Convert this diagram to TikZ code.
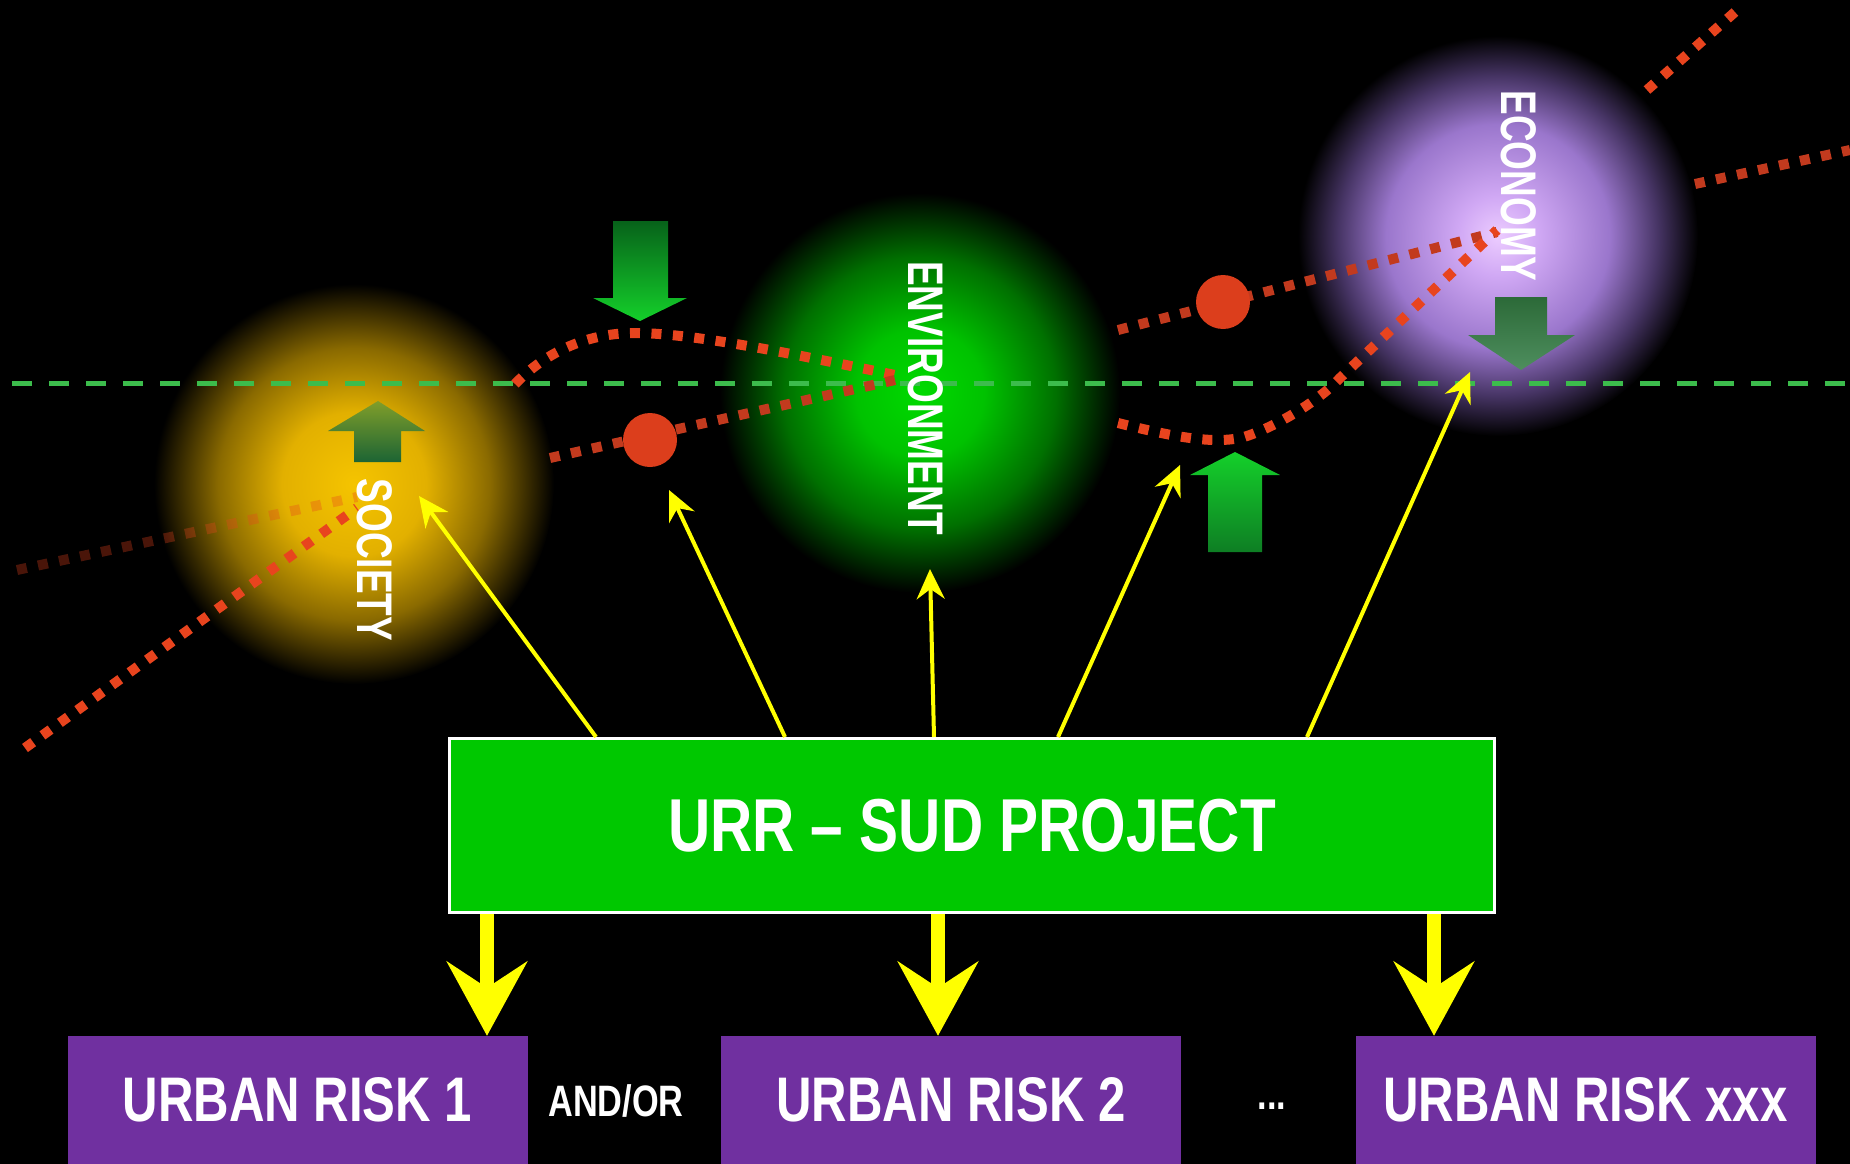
\documentclass[tikz,border=0pt]{standalone}
\usepackage{fontspec}
\usetikzlibrary{arrows.meta}
\newfontfamily\condA{Liberation Sans}[FakeStretch=0.78]
\newfontfamily\condB{Liberation Sans}[FakeStretch=0.74]
\definecolor{socA}{HTML}{F5C400}
\definecolor{socB}{HTML}{E2B000}
\definecolor{socC}{HTML}{8A6A00}
\definecolor{envA}{HTML}{00DA00}
\definecolor{envB}{HTML}{00C200}
\definecolor{envC}{HTML}{007000}
\definecolor{ecoA}{HTML}{ECCCFF}
\definecolor{ecoB}{HTML}{D0A8F4}
\definecolor{ecoC}{HTML}{9A76CC}
\definecolor{ecoD}{HTML}{463464}
\definecolor{urrgreen}{HTML}{00C800}
\definecolor{riskpurple}{HTML}{7030A0}
\definecolor{ylw}{HTML}{FFFF00}
\definecolor{redA}{HTML}{E8441E}
\definecolor{redB}{HTML}{C23A1E}
\definecolor{dashgreen}{HTML}{3CBC4C}
\definecolor{gDarkTop}{HTML}{07621A}
\definecolor{gBright}{HTML}{14D02A}
\definecolor{gMid}{HTML}{0E7E24}
\definecolor{oliveTop}{HTML}{809E2A}
\definecolor{tealBot}{HTML}{1C6434}
\definecolor{ecoArrTop}{HTML}{2C6A38}
\definecolor{ecoArrBot}{HTML}{4E8E5E}
\definecolor{dotred}{HTML}{DC3E1C}
\pgfdeclareradialshading{socglow}{\pgfpoint{0bp}{0bp}}{color(0bp)=(socA); color(9bp)=(socB); color(17bp)=(socC); color(25bp)=(black); color(50bp)=(black)}
\pgfdeclareradialshading{envglow}{\pgfpoint{0bp}{0bp}}{color(0bp)=(envA); color(8bp)=(envB); color(17bp)=(envC); color(25bp)=(black); color(50bp)=(black)}
\pgfdeclareradialshading{ecoglow}{\pgfpoint{0bp}{0bp}}{color(0bp)=(ecoA); color(5bp)=(ecoB); color(14bp)=(ecoC); color(20bp)=(ecoD); color(25bp)=(black); color(50bp)=(black)}
\tikzset{
  reddots/.style={line width=10pt, dash pattern=on 10pt off 11.5pt, draw=redA},
  reddim/.style={reddots, draw=redB},
  redfaint/.style={reddots, draw=redA, draw opacity=0.32},
  greendash/.style={line width=5pt, dash pattern=on 20pt off 17pt, draw=dashgreen},
  sphere/.style={white, font=\condB\bfseries\fontsize{50}{52}\selectfont, rotate=-90, inner sep=0pt},
  yarrow/.style={draw=ylw, line width=4pt, -{Stealth[length=30pt, width=28pt, inset=10pt]}},
  bigarrow/.style={draw=ylw, line width=14pt, -{Stealth[length=74pt, width=80pt, inset=26pt]}},
  riskbox/.style={fill=riskpurple, minimum width=460pt, minimum height=128pt, inner sep=0pt, text=white, font=\condA\bfseries\fontsize{63}{65}\selectfont},
  smalltext/.style={text=white, font=\condA\bfseries\fontsize{44}{46}\selectfont, inner sep=0pt}
}
\begin{document}
\begin{tikzpicture}[x=1pt,y=-1pt]
\useasboundingbox (0,0) rectangle (1850,1164);
\fill[black] (0,0) rectangle (1850,1164);
% glows
\shade[shading=socglow] (354,484) circle [radius=200];
\shade[shading=envglow] (920,393) circle [radius=200];
\shade[shading=ecoglow] (1498,236) circle [radius=200];
% dashed green line
\draw[greendash] (12,383) -- (1850,383);
% red dotted trend lines
\draw[redfaint] (17,570) -- (357,497);
\draw[reddots] (25,748) -- (357,508);
\draw[reddots] (515,384) .. controls (548,350) and (590,333) .. (635,333) .. controls (700,333) and (820,360) .. (900,376);
\draw[reddim] (550,458) -- (895,380);
\draw[reddim] (1118,330) -- (1497,232);
\draw[reddots] (1118,423) .. controls (1170,436) and (1210,444) .. (1240,438) .. controls (1265,432) and (1315,405) .. (1340,378) -- (1497,230);
\draw[reddots] (1647,90) -- (1735,12);
\draw[reddim] (1695,184) -- (1850,150);
% red dots
\fill[dotred] (650,440) circle [radius=27];
\fill[dotred] (1223,302) circle [radius=27];
% green block arrows
\shade[top color=gDarkTop, bottom color=gBright] (613,221) -- (668,221) -- (668,298) -- (687,298) -- (640,321) -- (593,298) -- (613,298) -- cycle;
\shade[top color=oliveTop, bottom color=tealBot] (378,401) -- (425,431) -- (401,431) -- (401,462) -- (354,462) -- (354,431) -- (328,431) -- cycle;
\shade[top color=gBright, bottom color=gMid] (1235,452) -- (1280,475) -- (1262,475) -- (1262,552) -- (1208,552) -- (1208,475) -- (1190,475) -- cycle;
\shade[top color=ecoArrTop, bottom color=ecoArrBot] (1495,297) -- (1547,297) -- (1547,335) -- (1575,335) -- (1521,370) -- (1468,335) -- (1495,335) -- cycle;
% sphere labels
\node[sphere] (society) at (375,560) {SOCIETY};
\node[sphere] (environment) at (926,398) {ENVIRONMENT};
\node[sphere] (economy) at (1519,186) {ECONOMY};
% boxes
\node[draw=white, line width=3pt, fill=urrgreen, minimum width=1045pt, minimum height=174pt, inner sep=0pt, text=white, font=\condA\bfseries\fontsize{75}{77}\selectfont] (urr) at (972,825.5) {URR – SUD PROJECT};
\node[riskbox] (risk1) at (297.5,1100) {URBAN RISK 1};
\node[riskbox] (risk2) at (951,1100) {URBAN RISK 2};
\node[riskbox] (risk3) at (1585.5,1100) {URBAN RISK xxx};
\node[smalltext] (andor) at (616,1101) {AND/OR};
\node[smalltext] (dots) at (1272,1106) {...};
% targets of yellow arrows
\coordinate (t1) at (419,496);
\coordinate (t2) at (669,490);
\coordinate (t3) at (930,569);
\coordinate (t4) at (1180,465);
\coordinate (t5) at (1470,372);
\coordinate (s1) at (596,0);
\coordinate (s2) at (785,0);
\coordinate (s3) at (934,0);
\coordinate (s4) at (1058,0);
\coordinate (s5) at (1307,0);
\draw[yarrow] (urr.north -| s1) -- (t1);
\draw[yarrow] (urr.north -| s2) -- (t2);
\draw[yarrow] (urr.north -| s3) -- (t3);
\draw[yarrow] (urr.north -| s4) -- (t4);
\draw[yarrow] (urr.north -| s5) -- (t5);
% thick arrows down
\coordinate (k1) at (487,0);
\coordinate (k2) at (938,0);
\coordinate (k3) at (1434,0);
\draw[bigarrow] (urr.south -| k1) -- (risk1.north -| k1);
\draw[bigarrow] (urr.south -| k2) -- (risk2.north -| k2);
\draw[bigarrow] (urr.south -| k3) -- (risk3.north -| k3);
\end{tikzpicture}
\end{document}
